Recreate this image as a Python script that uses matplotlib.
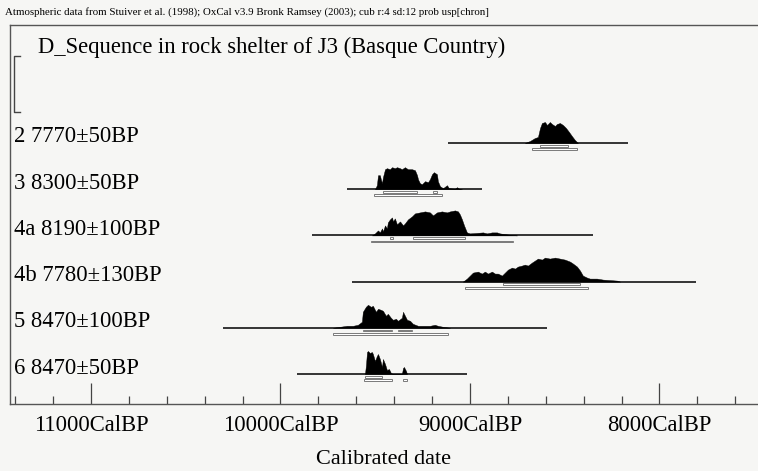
import matplotlib
matplotlib.use("Agg")
import matplotlib.pyplot as plt
from matplotlib.patches import Rectangle

# ---------------- data ----------------
row_labels = ["2", "3", "4a", "4b", "5", "6"]
row_dates = ["7770±50BP", "8300±50BP", "8190±100BP", "7780±130BP", "8470±100BP", "8470±50BP"]

# plotted ranges of each line (cal BP)
line_ranges = [(9116, 8166), (9649, 8937), (9834, 8351), (9623, 7807), (10303, 8593), (9913, 9016)]

# probability distributions: (cal BP years, relative probability)
dist_years = [
    [8710, 8683, 8657, 8641, 8630, 8620, 8604, 8593, 8578, 8567, 8551, 8541, 8525, 8509, 8493, 8477, 8462, 8446, 8430],
    [9501, 9491, 9485, 9475, 9470, 9464, 9459, 9448, 9438, 9422, 9411, 9396, 9385, 9369, 9359, 9343, 9327, 9306, 9290,
     9279, 9274, 9264, 9253, 9237, 9221, 9211, 9200, 9190, 9174, 9169, 9158, 9142, 9121, 9111, 9079, 9068, 9058, 9042],
    [9517, 9501, 9485, 9475, 9464, 9459, 9448, 9438, 9433, 9422, 9411, 9406, 9396, 9385, 9369, 9353, 9343, 9327, 9306,
     9290, 9264, 9237, 9211, 9195, 9174, 9148, 9121, 9105, 9079, 9063, 9053, 9042, 9031, 9016, 9000, 8963, 8931, 8910,
     8884, 8857, 8842, 8805, 8773, 8752],
    [9037, 9016, 9000, 8984, 8958, 8937, 8921, 8905, 8884, 8868, 8852, 8831, 8815, 8799, 8778, 8762, 8747, 8726, 8710,
     8694, 8673, 8657, 8641, 8620, 8604, 8578, 8551, 8525, 8499, 8472, 8456, 8435, 8419, 8404, 8382, 8367, 8330, 8298,
     8261, 8224, 8208],
    [9723, 9686, 9649, 9617, 9591, 9570, 9565, 9549, 9538, 9522, 9512, 9496, 9485, 9470, 9459, 9443, 9433, 9417, 9406,
     9390, 9380, 9359, 9353, 9348, 9332, 9316, 9301, 9274, 9248, 9211, 9185, 9169, 9142, 9105],
    [9554, 9549, 9543, 9538, 9528, 9517, 9512, 9501, 9491, 9485, 9475, 9464, 9459, 9448, 9438, 9427, 9417, 9406, 9359,
     9353, 9348, 9337, 9332],
]
dist_probs = [
    [0, 2, 5, 6, 15, 20, 21, 18, 21, 19, 17, 19, 20, 18, 15, 11, 7, 3, 0],
    [0, 4, 14, 14, 10, 6, 12, 20, 21, 20, 22, 21, 22, 21, 20, 22, 20, 20, 19,
     14, 10, 6, 5, 8, 7, 10, 15, 17, 15, 8, 3, 1, 4, 1, 0.5, 2, 0.5, 0],
    [0, 2, 5, 3, 7, 4, 10, 7, 13, 16, 18, 14, 17, 11, 14, 10, 12, 16, 19,
     22, 23, 24, 23, 20, 23, 24, 23, 24, 25, 24, 21, 16, 10, 3, 2, 2.5, 3, 2,
     3, 3, 2, 1, 0.3, 0],
    [0, 3, 6, 9, 10, 8, 10, 8, 10, 8, 8, 6, 9, 12, 14, 13, 15, 16, 17,
     16, 19, 21, 23, 22, 24, 23, 24, 23, 22, 20, 18, 15, 11, 6, 4, 3, 3, 2,
     1.5, 1, 0],
    [0, 1, 2, 2, 3, 6, 16, 21, 23, 21, 22, 16, 19, 18, 17, 12, 14, 10, 8,
     9, 7, 10, 16, 14, 8, 7, 4, 2, 2, 2, 3, 2, 1, 0],
    [0, 8, 22, 23, 21, 22, 20, 13, 18, 20, 15, 7, 15, 10, 4, 5, 1, 0, 0,
     6, 7, 3, 0],
]

# highest probability ranges (cal BP from, to)
ranges_68 = [
    [(8630, 8483)],
    [(9459, 9279), (9195, 9174)],
    [(9422, 9406), (9301, 9026)],
    [(8826, 8419)],
    [(9565, 9411), (9380, 9306)],
    [(9554, 9464)],
]
ranges_95 = [
    [(8673, 8435)],
    [(9506, 9148)],
    [(9522, 8773)],
    [(9026, 8377)],
    [(9723, 9116)],
    [(9559, 9411), (9353, 9332)],
]

major_ticks = [11000, 10000, 9000, 8000]
major_labels = ["11000CalBP", "10000CalBP", "9000CalBP", "8000CalBP"]
minor_ticks = [11400, 11200, 10800, 10600, 10400, 10200, 9800, 9600, 9400, 9200,
               8800, 8600, 8400, 8200, 7800, 7600]

header = ("Atmospheric data from Stuiver et al. (1998); OxCal v3.9 Bronk Ramsey (2003); "
          "cub r:4 sd:12 prob usp[chron]")
title = "D_Sequence in rock shelter of J3 (Basque Country)"
xlabel = "Calibrated date"

# ---------------- layout ----------------
W, H = 758, 471
fig = plt.figure(figsize=(W / 100, H / 100), dpi=100)
bg = "#f6f6f4"
fig.patch.set_facecolor(bg)

left_px, right_px, top_px, bot_px = 10, 757, 25, 404
ax = fig.add_axes([left_px / W, 1 - bot_px / H, (right_px - left_px) / W, (bot_px - top_px) / H])
ax.set_facecolor(bg)

px_per_row = 46.2
base0 = 143.0
ax.set_xlim(11427, 7485)
ax.set_ylim((bot_px - base0) / px_per_row, (top_px - base0) / px_per_row)

serif = "Liberation Serif"
u = 1.0 / px_per_row  # one pixel in row units
axw = right_px - left_px
axh = bot_px - top_px

for k in range(len(row_labels)):
    x0, x1 = line_ranges[k]
    ax.plot([x0, x1], [k, k], color="black", lw=1.1, solid_capstyle="butt", zorder=2)
    ys = [k - p * u for p in dist_probs[k]]
    ax.fill_between(dist_years[k], ys, k, color="black", lw=0.3, zorder=3)
    for (a, b) in ranges_68[k]:
        ax.add_patch(Rectangle((a, k + 1.8 * u), b - a, 1.8 * u, facecolor="white",
                               edgecolor="#7a7a7a", lw=0.7, zorder=3))
    for (a, b) in ranges_95[k]:
        ax.add_patch(Rectangle((a, k + 5.2 * u), b - a, 1.8 * u, facecolor="white",
                               edgecolor="#7a7a7a", lw=0.7, zorder=3))
    ax.text(4 / axw, k - 6 * u, row_labels[k] + " " + row_dates[k],
            transform=ax.get_yaxis_transform(),
            ha="left", va="center", fontsize=16.3, family=serif)

# title and bracket
ax.text(28 / axw, 1 - (47 - top_px) / axh, title,
        transform=ax.transAxes, ha="left", va="center", fontsize=16.3, family=serif)
bx = 3.5 / axw
bx2 = 10 / axw
by0 = 1 - (56 - top_px) / axh
by1 = 1 - (112 - top_px) / axh
ax.plot([bx2, bx, bx, bx2], [by0, by0, by1, by1], transform=ax.transAxes,
        color="#444444", lw=1.0, clip_on=False)

# axes styling
ax.spines["right"].set_visible(False)
for s in ["left", "top", "bottom"]:
    ax.spines[s].set_color("#555555")
    ax.spines[s].set_linewidth(1.0)
ax.set_yticks([])
ax.set_xticks(major_ticks)
ax.set_xticklabels(major_labels, family=serif, fontsize=16.3)
ax.set_xticks(minor_ticks, minor=True)
ax.tick_params(axis="x", which="major", direction="in", length=15, width=0.9,
               color="#444444", pad=8)
ax.tick_params(axis="x", which="minor", direction="in", length=6, width=0.9, color="#444444")
ax.set_xlabel(xlabel, family=serif, fontsize=16, labelpad=10)

fig.text(5 / W, 1 - 12 / H, header, ha="left", va="center", fontsize=7.8, family=serif)

fig.savefig("out.png", dpi=100, facecolor=bg)
